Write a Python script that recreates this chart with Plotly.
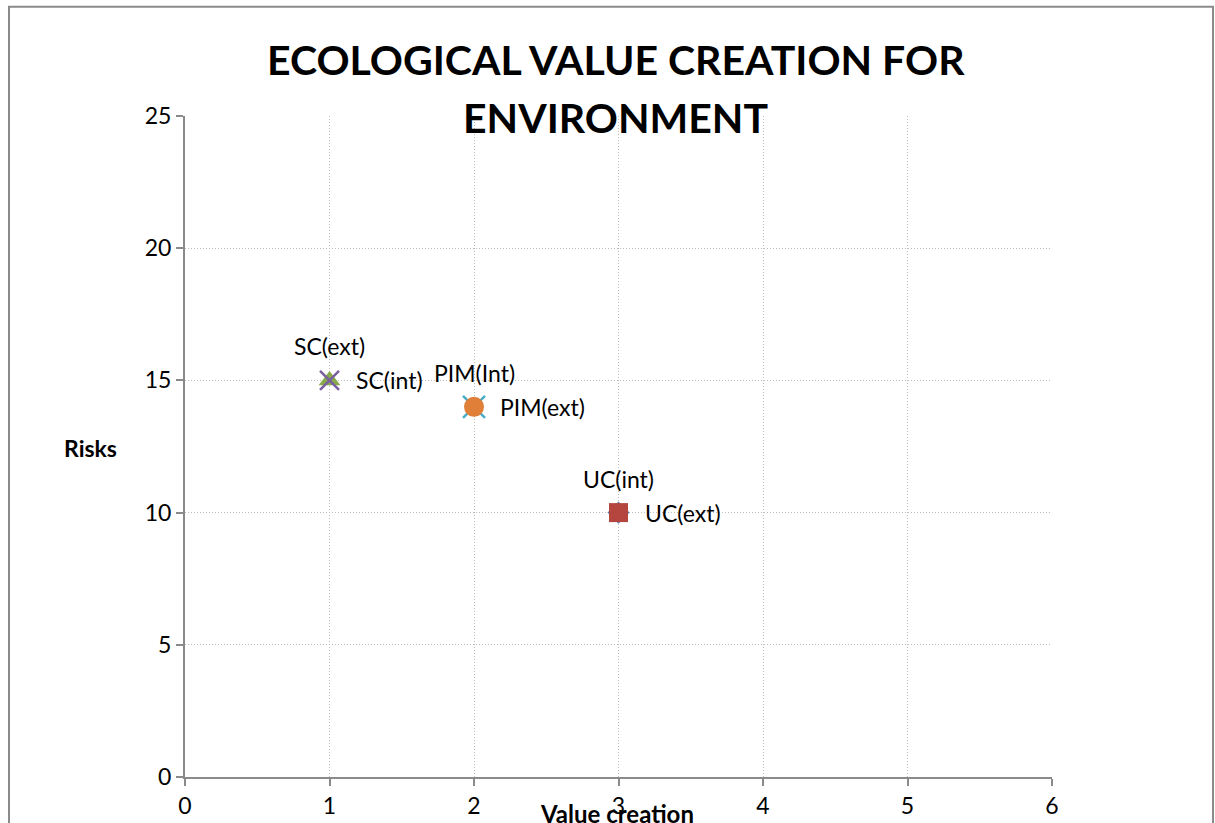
import plotly.graph_objects as go

# Scatter data: one point per series
series_names = ["UC(int)", "UC(ext)", "SC(int)", "SC(ext)", "PIM(Int)", "PIM(ext)"]
value_creation = [3, 3, 1, 1, 2, 2]
risks = [10, 10, 15, 15, 14, 14]

# Marker styling per series (drawn in order, later on top)
colors = ["#4F81BD", "#B5463F", "#88AA4A", "#7A5FA0", "#4BACC6", "#DF7F38"]
symbols = ["diamond", "square", "triangle-up", "x-thin-open", "x-thin-open", "circle"]
sizes = [17, 19, 19, 19, 22, 20]
label_side = ["top", "right", "right", "top", "top", "right"]

x_ticks = [0, 1, 2, 3, 4, 5, 6]
y_ticks = [0, 5, 10, 15, 20, 25]

FONT = "Lato"
TXT = 23

fig = go.Figure()
annotations = []
for name, xv, yv, c, s, sz, side in zip(series_names, value_creation, risks,
                                        colors, symbols, sizes, label_side):
    open_sym = s.endswith("open")
    fig.add_trace(go.Scatter(
        x=[xv], y=[yv], name=name, mode="markers",
        marker=dict(symbol=s, size=sz, color=c,
                    line=dict(width=2.5 if open_sym else 0, color=c)),
        cliponaxis=False, showlegend=False,
    ))
    # data label for the point
    if side == "top":
        annotations.append(dict(text=name, x=xv, y=yv, xref="x", yref="y",
                                xanchor="center", yanchor="middle", yshift=34,
                                showarrow=False,
                                font=dict(family=FONT, size=TXT, color="#000000")))
    else:
        annotations.append(dict(text=name, x=xv, y=yv, xref="x", yref="y",
                                xanchor="left", yanchor="middle", xshift=24,
                                showarrow=False,
                                font=dict(family=FONT, size=TXT, color="#000000")))

axis_common = dict(
    showgrid=True, gridcolor="#bdbdbd", griddash="1px,2px", gridwidth=1,
    showline=True, linecolor="#8a8a8a", linewidth=2,
    ticks="outside", ticklen=7, tickcolor="#8a8a8a", tickwidth=1.5,
    zeroline=False, automargin=False,
    tickfont=dict(family=FONT, size=TXT, color="#000000"),
)

fig.update_xaxes(range=[0, 6], tickvals=x_ticks, **axis_common)
fig.update_yaxes(range=[0, 25], tickvals=y_ticks, **axis_common)

title_font = dict(family=FONT, size=41, color="#000000")
annotations += [
    dict(text="<b>ECOLOGICAL VALUE CREATION FOR</b>", xref="paper", yref="paper",
         x=0.497, y=1.0852, xanchor="center", yanchor="middle",
         showarrow=False, font=title_font),
    dict(text="<b>ENVIRONMENT</b>", xref="paper", yref="paper",
         x=0.497, y=0.9974, xanchor="center", yanchor="middle",
         showarrow=False, font=title_font),
    dict(text="<b>Value creation</b>", xref="paper", yref="paper",
         x=0.498, y=-0.055, xanchor="center", yanchor="middle",
         showarrow=False, font=dict(family=FONT, size=24, color="#000000")),
    dict(text="<b>Risks</b>", xref="paper", yref="paper",
         x=-0.109, y=0.498, xanchor="center", yanchor="middle",
         showarrow=False, font=dict(family=FONT, size=TXT, color="#000000")),
]

fig.update_layout(
    width=1215, height=823,
    margin=dict(l=185, r=163, t=116, b=46),
    paper_bgcolor="white", plot_bgcolor="white",
    annotations=annotations,
    shapes=[dict(type="rect", xref="paper", yref="paper",
                 x0=-0.203, x1=1.1857, y0=-0.2, y1=1.1654,
                 line=dict(color="#8a8a8a", width=2), layer="below")],
)

fig.write_html("out.html", config={"displayModeBar": False})
